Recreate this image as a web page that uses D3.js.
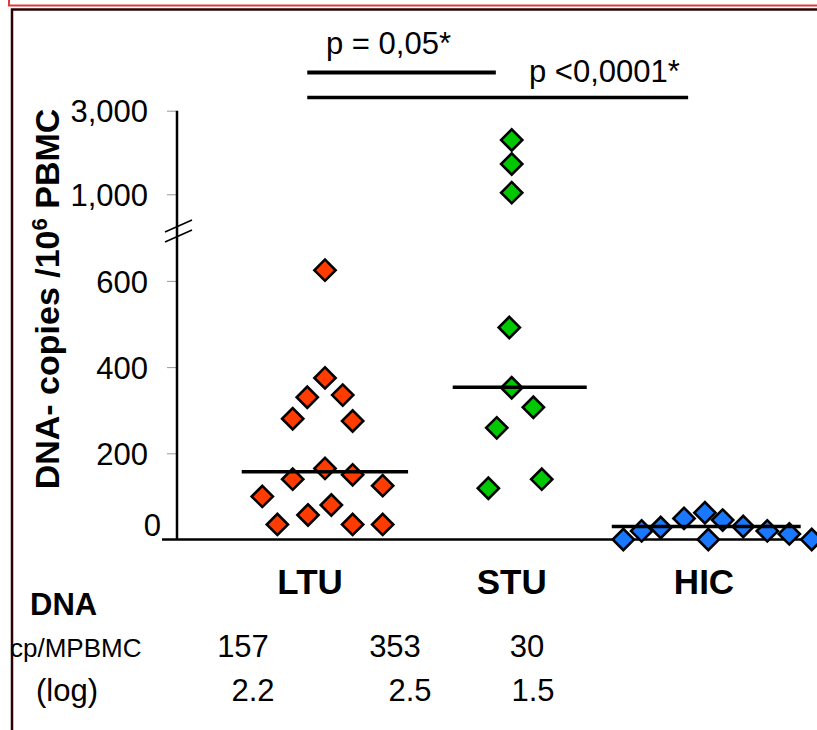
<!DOCTYPE html>
<html>
<head>
<meta charset="utf-8">
<script src="https://cdn.jsdelivr.net/npm/d3@7/dist/d3.min.js"></script>
<style>
  body { margin: 0; background: #fff; }
  svg { display: block; }
  text { font-family: Arial, "Liberation Sans", sans-serif; fill: #000; }
</style>
</head>
<body>
<div class="chart"></div>
<script>
// groups and their points (x = group position + horizontal spread, y = copies / 10^6 PBMC)
var groups = ["LTU", "STU", "HIC"];

var ltuY = [625, 375, 330, 335, 280, 275, 165, 140, 150, 125, 100, 80, 57, 35, 35, 35];
var ltuX = [1.0, 1.0, 0.905, 1.095, 0.827, 1.148, 1.0, 0.827, 1.148, 1.309, 0.664, 1.034, 0.909, 0.745, 1.148, 1.309];

var stuY = [2300, 1725, 1040, 492, 352, 307, 259, 140, 119];
var stuX = [2.0, 2.0, 2.0, 1.987, 2.0, 2.116, 1.92, 2.161, 1.875];

var hicY = [0, 20, 28, 49, 62, 45, 0, 30, 20, 13, 0];
var hicX = [2.598, 2.696, 2.798, 2.923, 3.035, 3.130, 3.053, 3.240, 3.369, 3.487, 3.607];

// medians (cp/MPBMC) and their log, and the extent of each median bar
var medians = [157, 353, 30];
var logMedians = ["2.2", "2.5", "1.5"];
var medianFrom = [0.554, 1.684, 2.536];
var medianTo = [1.445, 2.402, 3.548];

// significance bars
var pLabels = ["p = 0,05*", "p <0,0001*"];
var pFrom = [0.905, 0.905];
var pTo = [1.915, 2.945];

// axis ticks
var lowTicks = [0, 200, 400, 600];
var highTicks = [1000, 3000];
var tickText = d3.format(",");

var colors = ["#ff3c00", "#00c800", "#1a78ff"];

// ------------------------------------------------------------
var svgWidth = 817, svgHeight = 730;
var svg = d3.select(".chart").append("svg")
  .attr("width", svgWidth)
  .attr("height", svgHeight);

// frame
svg.append("path").attr("d", "M9,0V5.5H817").attr("fill", "none")
  .attr("stroke", "#e23a3a").attr("stroke-width", 2);
svg.append("path").attr("d", "M12,730V9.5H817").attr("fill", "none")
  .attr("stroke", "#2a0404").attr("stroke-width", 2.5);

// scales
var xScale = d3.scaleLinear().domain([1, 2]).range([325, 511.7]);
var yLow = d3.scaleLinear().domain([0, 600]).range([539.5, 280.9]);
var yHigh = d3.scaleLinear().domain([1000, 3000]).range([194.3, 110.7]);
function y(v) { return v < 800 ? yLow(v) : yHigh(v); }

var axisX = 177;

// y axis (two segments with a break)
var lowAxis = d3.axisLeft(yLow).tickValues(lowTicks.slice(1)).tickSize(9).tickFormat(tickText).tickPadding(19);
var highAxis = d3.axisLeft(yHigh).tickValues(highTicks).tickSize(9).tickFormat(tickText).tickPadding(19);

[lowAxis, highAxis].forEach(function(ax) {
  var g = svg.append("g").attr("transform", `translate(${axisX - 1},0)`).call(ax);
  g.select(".domain").remove();
  g.selectAll(".tick line").attr("stroke", "#999").attr("stroke-width", 1);
  g.selectAll(".tick text").attr("font-size", "31px").attr("dy", "0.36em")
    .style("font-family", "Arial, 'Liberation Sans', sans-serif");
});

// zero label sits on its own
svg.append("text")
  .attr("x", 161).attr("y", yLow(0) - 3.5)
  .attr("text-anchor", "end")
  .attr("font-size", "31px")
  .text(tickText(lowTicks[0]));

svg.append("line")
  .attr("x1", axisX).attr("x2", axisX)
  .attr("y1", yHigh(3000)).attr("y2", yLow(0))
  .attr("stroke", "#000").attr("stroke-width", 2.5);

// break marks
var brk = svg.append("g").attr("transform", `translate(${axisX + 1},231)`);
brk.append("line").attr("x1", -13).attr("y1", 1).attr("x2", 14).attr("y2", -11)
  .attr("stroke", "#000").attr("stroke-width", 1.5);
brk.append("line").attr("x1", -13).attr("y1", 11).attr("x2", 14).attr("y2", -1)
  .attr("stroke", "#000").attr("stroke-width", 1.5);

// x axis line
svg.append("line")
  .attr("x1", 162).attr("x2", svgWidth)
  .attr("y1", yLow(0)).attr("y2", yLow(0))
  .attr("stroke", "#000").attr("stroke-width", 2.5);

// points
var diamond = d3.symbol().type(d3.symbolSquare).size(225);
var sets = [[ltuX, ltuY], [stuX, stuY], [hicX, hicY]];
sets.forEach(function(s, gi) {
  var pts = s[1].map(function(v, i) { return { x: s[0][i], v: v }; });
  svg.append("g").selectAll("path")
    .data(pts)
    .enter()
    .append("path")
    .attr("d", diamond)
    .attr("transform", d => `translate(${xScale(d.x)},${y(d.v)}) rotate(45)`)
    .attr("fill", colors[gi])
    .attr("stroke", "#000")
    .attr("stroke-width", 2.6)
    .attr("stroke-linejoin", "miter");
});

// median bars
svg.append("g").selectAll("line")
  .data(medians)
  .enter()
  .append("line")
  .attr("x1", (d, i) => xScale(medianFrom[i]))
  .attr("x2", (d, i) => xScale(medianTo[i]))
  .attr("y1", d => yLow(d))
  .attr("y2", d => yLow(d))
  .attr("stroke", "#000")
  .attr("stroke-width", 3.5);

// significance bars
var sigY = [72.5, 97.5];
pLabels.forEach(function(lab, i) {
  svg.append("line")
    .attr("x1", xScale(pFrom[i])).attr("x2", xScale(pTo[i]))
    .attr("y1", sigY[i]).attr("y2", sigY[i])
    .attr("stroke", "#000").attr("stroke-width", i == 0 ? 4 : 3.5);
});
svg.append("text").attr("x", 326).attr("y", 54).attr("font-size", "31px").text(pLabels[0]);
svg.append("text").attr("x", 529).attr("y", 82).attr("font-size", "31px").text(pLabels[1]);

// category labels
var labelX = [0.92, 2.0, 3.03];
svg.append("g").selectAll("text")
  .data(groups)
  .enter()
  .append("text")
  .attr("x", (d, i) => xScale(labelX[i]))
  .attr("y", 594)
  .attr("text-anchor", "middle")
  .attr("font-size", "35px")
  .attr("font-weight", "bold")
  .text(d => d);

// y axis title
svg.append("text")
  .attr("transform", "translate(59,299) rotate(-90)")
  .attr("text-anchor", "middle")
  .attr("font-size", "34px")
  .attr("font-weight", "bold")
  .html('DNA- copies /10<tspan dy="-12" font-size="22px">6</tspan><tspan dy="12"> PBMC</tspan>');

// small table under the chart
svg.append("text").attr("x", 30).attr("y", 615).attr("font-size", "31px").attr("font-weight", "bold").text("DNA");
svg.append("text").attr("x", 10).attr("y", 657).attr("font-size", "26px").text("cp/MPBMC");
svg.append("text").attr("x", 36).attr("y", 701).attr("font-size", "31px").text("(log)");

var medCols = [243, 395, 527];
var logCols = [253, 410, 533];
medians.forEach(function(m, i) {
  svg.append("text").attr("x", medCols[i]).attr("y", 657).attr("text-anchor", "middle")
    .attr("font-size", "31px").text(m);
  svg.append("text").attr("x", logCols[i]).attr("y", 701).attr("text-anchor", "middle")
    .attr("font-size", "31px").text(logMedians[i]);
});
</script>
</body>
</html>
